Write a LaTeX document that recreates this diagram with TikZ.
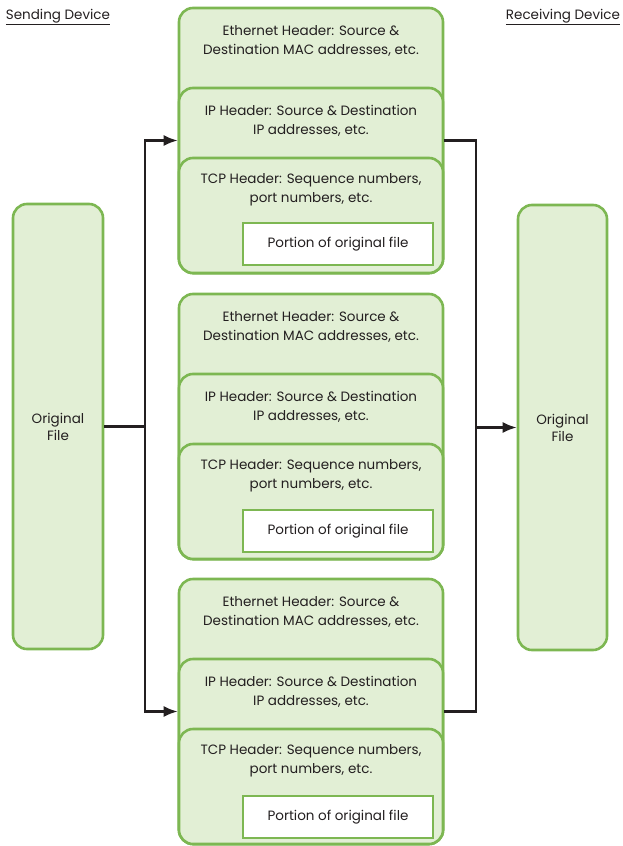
\documentclass[tikz,border=0pt]{standalone}
\usepackage{fontspec}
\setmainfont{Poppins}
\usetikzlibrary{arrows.meta,positioning}
\definecolor{leafgreen}{RGB}{125,183,82}
\definecolor{paleleaf}{RGB}{226,239,213}
\definecolor{inkgray}{RGB}{35,31,32}

\begin{document}
\begin{tikzpicture}[x=1pt,y=-1pt,
	layer/.style={draw=leafgreen,fill=paleleaf,line width=2.6pt,rounded corners=14pt,minimum width=264pt,inner sep=0pt},
	filebox/.style={draw=leafgreen,fill=paleleaf,line width=2.6pt,rounded corners=14pt,minimum width=90pt,minimum height=445pt,text=inkgray,align=center,font=\fontsize{13.5}{17}\selectfont},
	part/.style={draw=leafgreen,fill=white,line width=2.6pt,minimum width=190pt,minimum height=42pt,text=inkgray,font=\fontsize{13.5}{19}\selectfont},
	hdr/.style={text=inkgray,align=center,font=\fontsize{13.5}{19}\selectfont},
	wire/.style={line width=2.2pt,draw=inkgray},
	tip/.style={wire,-{Latex[length=14pt,width=11pt]}}]
		\useasboundingbox (0,0) rectangle (622,846);
		% device captions
		\node[hdr] (sendlbl) at (58,17) {\underline{Sending Device}};
		\node[hdr] (recvlbl) at (563,17) {\underline{Receiving Device}};
		% the file on both ends
		\node[filebox] (orig) at (58,426.5) {Original\\File};
		\node[filebox,minimum width=89pt] (copy) at (562.5,427.5) {Original\\File};
		% first packet
		\node[layer,minimum height=265pt] (eth1) at (311,140.5) {};
		\node[layer,minimum height=185pt] (ip1) at (311,180.5) {};
		\node[layer,minimum height=115pt] (tcp1) at (311,215.5) {};
		\node[hdr] (eth1txt) at (311,41) {Ethernet Header: Source \&\\Destination MAC addresses, etc.};
		\node[hdr] (ip1txt) at (311,121) {IP Header: Source \& Destination\\IP addresses, etc.};
		\node[hdr] (tcp1txt) at (311,190) {TCP Header: Sequence numbers,\\port numbers, etc.};
		\node[part] (part1) at (338,244) {Portion of original file};
		% second packet
		\node[layer,minimum height=265pt] (eth2) at (311,426.5) {};
		\node[layer,minimum height=185pt] (ip2) at (311,466.5) {};
		\node[layer,minimum height=115pt] (tcp2) at (311,501.5) {};
		\node[hdr] (eth2txt) at (311,327) {Ethernet Header: Source \&\\Destination MAC addresses, etc.};
		\node[hdr] (ip2txt) at (311,407) {IP Header: Source \& Destination\\IP addresses, etc.};
		\node[hdr] (tcp2txt) at (311,476) {TCP Header: Sequence numbers,\\port numbers, etc.};
		\node[part] (part2) at (338,531) {Portion of original file};
		% third packet
		\node[layer,minimum height=265pt] (eth3) at (311,711.5) {};
		\node[layer,minimum height=185pt] (ip3) at (311,751.5) {};
		\node[layer,minimum height=115pt] (tcp3) at (311,786.5) {};
		\node[hdr] (eth3txt) at (311,612) {Ethernet Header: Source \&\\Destination MAC addresses, etc.};
		\node[hdr] (ip3txt) at (311,692) {IP Header: Source \& Destination\\IP addresses, etc.};
		\node[hdr] (tcp3txt) at (311,761) {TCP Header: Sequence numbers,\\port numbers, etc.};
		\node[part] (part3) at (338,817) {Portion of original file};
		% wiring
		\coordinate (split) at (145,426.5);
		\coordinate (join) at (476,427.5);
		\draw[wire] (orig) -- (split);
		\draw[tip] (split) |- (eth1);
		\draw[tip] (split) |- (eth3);
		\draw[wire] (eth1) -| (join);
		\draw[wire] (eth3) -| (join);
		\draw[tip] (join) -- (copy);
	\end{tikzpicture}
\end{document}
